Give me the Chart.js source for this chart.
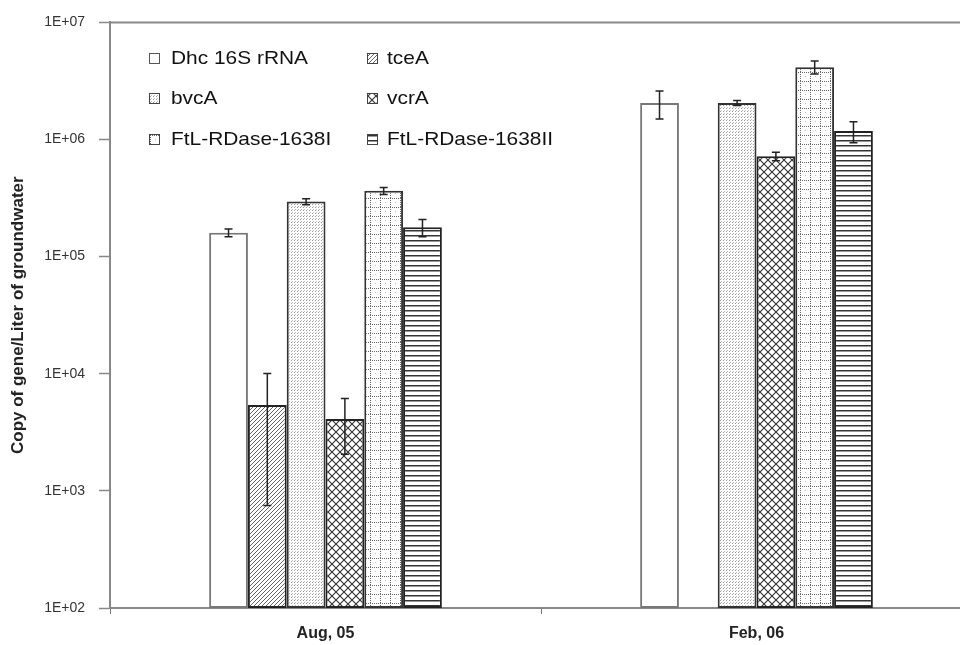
<!DOCTYPE html>
<html>
<head>
<meta charset="utf-8">
<script src="https://cdn.jsdelivr.net/npm/chart.js@4.4.1/dist/chart.umd.min.js"></script>
<style>
  html, body { margin: 0; padding: 0; background: #fff; overflow: hidden; }
  #wrap { width: 990px; height: 645px; position: relative; }
</style>
</head>
<body>
<div id="wrap"><canvas id="barChart"></canvas></div>
<script>
// sampling dates and genes
let sampleDates = ["Aug, 05", "Feb, 06"];
let geneNames = ["Dhc 16S rRNA", "tceA", "bvcA", "vcrA", "FtL-RDase-1638I", "FtL-RDase-1638II"];

// copies per liter, one value per sampling date
let dhc16S   = [160000, 2050000];
let tceA     = [5400, null];
let bvcA     = [295000, 2050000];
let vcrA     = [4100, 720000];
let ftl1638I = [365000, 4150000];
let ftl1638II = [178000, 1180000];

// error bars (+/-)
let dhc16SErr    = [12000, 550000];
let tceAErr      = [4650, null];
let bvcAErr      = [17000, 100000];
let vcrAErr      = [2050, 60000];
let ftl1638IErr  = [25000, 530000];
let ftl1638IIErr = [30000, 240000];

let yTickValues = [100, 1000, 10000, 100000, 1000000, 10000000];
let yTickLabels = ["1E+02", "1E+03", "1E+04", "1E+05", "1E+06", "1E+07"];

const FONT = "Arial, 'Liberation Sans', sans-serif";

function makePattern(kind) {
    let c = document.createElement("canvas");
    let g = c.getContext("2d");
    let w = 8, h = 8;
    if (kind === "diag") { w = 4; h = 4; }
    if (kind === "dots") { w = 3; h = 3; }
    if (kind === "diamond") { w = 8; h = 8; }
    if (kind === "grid") { w = 10; h = 9; }
    if (kind === "hlines") { w = 4; h = 5; }
    c.width = w; c.height = h;
    g.fillStyle = "#fff";
    g.fillRect(0, 0, w, h);
    if (kind === "diag") {
        g.strokeStyle = "#666";
        g.lineWidth = 1;
        g.beginPath();
        g.moveTo(0, h); g.lineTo(w, 0);
        g.moveTo(-1, 1); g.lineTo(1, -1);
        g.moveTo(w - 1, h + 1); g.lineTo(w + 1, h - 1);
        g.stroke();
    } else if (kind === "dots") {
        g.fillStyle = "#999";
        g.fillRect(0, 0, 1, 1);
        g.fillStyle = "#bbb";
        g.fillRect(1, 2, 1, 1);
    } else if (kind === "diamond") {
        g.strokeStyle = "#333";
        g.lineWidth = 1.1;
        g.beginPath();
        g.moveTo(0, 0); g.lineTo(w, h);
        g.moveTo(0, h); g.lineTo(w, 0);
        g.stroke();
    } else if (kind === "grid") {
        g.fillStyle = "#666";
        for (let x = 0; x < w; x += 2) g.fillRect(x, 0, 1, 1);
        for (let y = 0; y < h; y += 2) g.fillRect(0, y, 1, 1);
        g.fillStyle = "#bbb";
        g.fillRect(5, 4, 1, 1);
    } else if (kind === "hlines") {
        g.fillStyle = "#333";
        g.fillRect(0, 0, w, 1.5);
    }
    return document.getElementById("barChart").getContext("2d").createPattern(c, "repeat");
}

let fills = ["#fff", makePattern("diag"), makePattern("dots"), makePattern("diamond"), makePattern("grid"), makePattern("hlines")];
let borders = ["#777", "#222", "#333", "#222", "#333", "#222"];
let seriesValues = [dhc16S, tceA, bvcA, vcrA, ftl1638I, ftl1638II];
let seriesErrors = [dhc16SErr, tceAErr, bvcAErr, vcrAErr, ftl1638IErr, ftl1638IIErr];

const errorBars = {
    id: "errorBars",
    afterDatasetsDraw(chart) {
        let ctx = chart.ctx;
        let y = chart.scales.y;
        ctx.save();
        ctx.strokeStyle = "#222";
        ctx.lineWidth = 1.5;
        chart.data.datasets.forEach((ds, i) => {
            let meta = chart.getDatasetMeta(i);
            meta.data.forEach((bar, j) => {
                let v = ds.data[j], e = seriesErrors[i][j];
                if (v == null || e == null) return;
                let yt = y.getPixelForValue(v + e);
                let yb = y.getPixelForValue(Math.max(v - e, 100));
                ctx.beginPath();
                ctx.moveTo(bar.x, yt); ctx.lineTo(bar.x, yb);
                ctx.moveTo(bar.x - 4, yt); ctx.lineTo(bar.x + 4, yt);
                ctx.moveTo(bar.x - 4, yb); ctx.lineTo(bar.x + 4, yb);
                ctx.stroke();
            });
        });
        ctx.restore();
    }
};

const boxLegend = {
    id: "boxLegend",
    afterDraw(chart) {
        let ctx = chart.ctx;
        let area = chart.chartArea;
        ctx.save();
        // top border of plot area
        ctx.strokeStyle = "#888";
        ctx.lineWidth = 2;
        ctx.beginPath();
        ctx.moveTo(area.left, area.top);
        ctx.lineTo(area.right, area.top);
        ctx.stroke();

        let cols = [{ box: 149, text: 171 }, { box: 367, text: 387 }];
        let rows = [58, 98, 139];
        ctx.font = "19px " + FONT;
        ctx.textBaseline = "middle";
        geneNames.forEach((name, i) => {
            let c = cols[i % 2], r = rows[Math.floor(i / 2)];
            ctx.fillStyle = fills[i];
            ctx.fillRect(c.box, r - 5, 11, 11);
            ctx.strokeStyle = i === 0 ? "#555" : "#444";
            ctx.lineWidth = 1;
            ctx.strokeRect(c.box + 0.5, r - 4.5, 10, 10);
            ctx.fillStyle = "#111";
            ctx.save();
            ctx.translate(c.text, r + 1);
            ctx.scale(1.1, 1);
            ctx.fillText(name, 0, 0);
            ctx.restore();
        });
        ctx.restore();
    }
};

new Chart(document.getElementById("barChart"), {
    type: "bar",
    data: {
        labels: sampleDates,
        datasets: geneNames.map((name, i) => ({
            label: name,
            data: seriesValues[i],
            backgroundColor: fills[i],
            borderColor: borders[i],
            borderWidth: 2,
            borderSkipped: false
        }))
    },
    options: {
        responsive: true,
        maintainAspectRatio: false,
        animation: false,
        layout: { padding: { top: 18, right: 18, left: 0, bottom: 0 } },
        datasets: { bar: { barPercentage: 1, categoryPercentage: 0.54 } },
        plugins: {
            legend: { display: false },
            tooltip: { enabled: false }
        },
        scales: {
            x: {
                offset: true,
                grid: { display: true, drawOnChartArea: false, offset: true, tickLength: 6, tickColor: "#777", tickWidth: 1 },
                border: { color: "#888", width: 2 },
                ticks: { color: "#222", padding: 10, font: { family: FONT, size: 16, weight: "bold" } },
                afterFit: s => { s.height = 37; }
            },
            y: {
                type: "logarithmic",
                min: 100,
                max: 10000000,
                afterBuildTicks: s => { s.ticks = yTickValues.map(v => ({ value: v })); },
                ticks: {
                    color: "#333",
                    padding: 14,
                    font: { family: FONT, size: 14 },
                    callback: v => yTickLabels[yTickValues.indexOf(v)]
                },
                grid: { drawOnChartArea: false, tickLength: 11, tickColor: "#888", tickWidth: 1.5 },
                border: { color: "#888", width: 2 },
                title: {
                    display: true,
                    text: "Copy of gene/Liter of groundwater", // Y-Axis Title
                    color: "#222",
                    padding: { top: 8, bottom: 0 },
                    font: { family: FONT, size: 17, weight: "bold" }
                },
                afterFit: s => { s.width = 110; }
            }
        }
    },
    plugins: [errorBars, boxLegend]
});
</script>
</body>
</html>
